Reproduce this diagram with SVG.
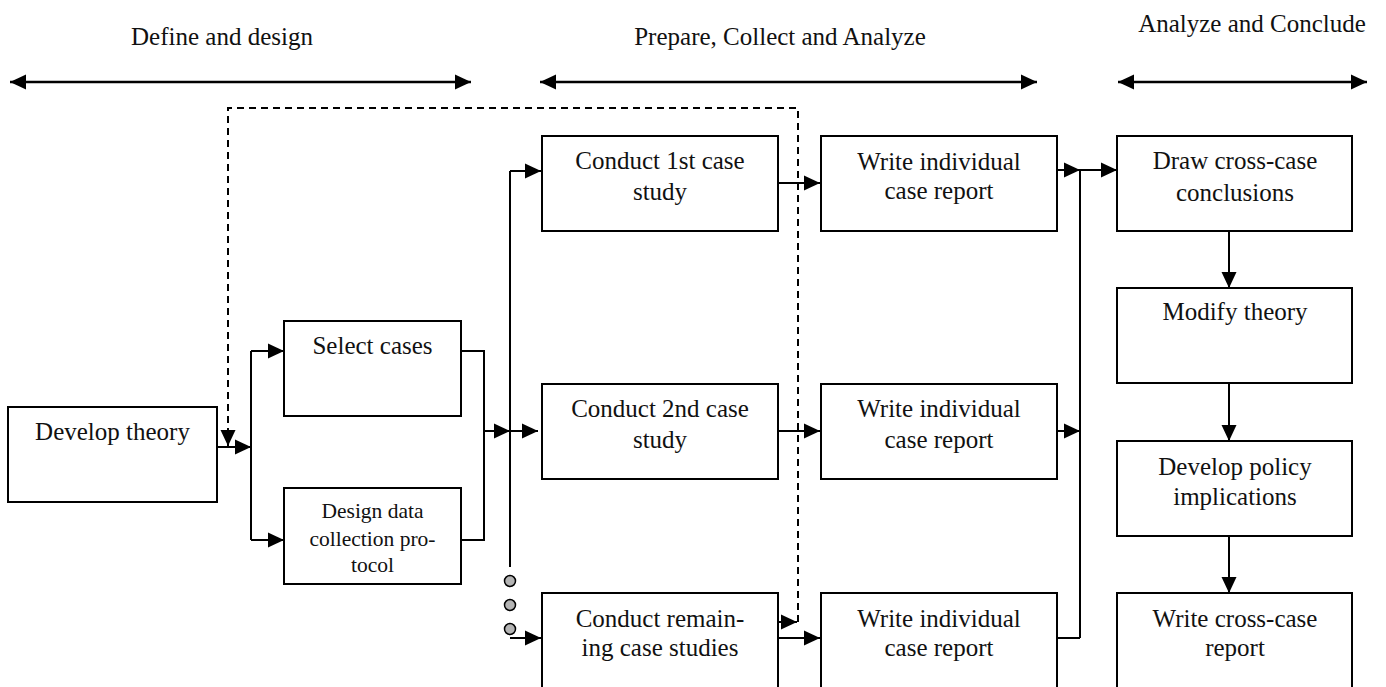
<svg xmlns="http://www.w3.org/2000/svg" width="1386" height="687" viewBox="0 0 1386 687">
<style>
.box{fill:#fff;stroke:#000;stroke-width:2}
.t{font-family:"Liberation Serif","DejaVu Serif",serif;font-size:25px;fill:#111;text-anchor:middle}
.ts{font-family:"Liberation Serif","DejaVu Serif",serif;font-size:21.5px;fill:#111;text-anchor:middle}
.ln{fill:none;stroke:#000;stroke-width:2}
.ar{fill:none;stroke:#000;stroke-width:2;marker-end:url(#ah)}
.dash{fill:none;stroke:#000;stroke-width:2;stroke-dasharray:7,5;marker-end:url(#ah)}
.dbl{fill:none;stroke:#000;stroke-width:2.5;marker-end:url(#ah)}
.dot{fill:#b4b4b4;stroke:#000;stroke-width:1.5}
</style>
<defs>
<marker id="ah" markerUnits="userSpaceOnUse" viewBox="0 0 16 16" markerWidth="16" markerHeight="16" refX="16" refY="8" orient="auto-start-reverse">
<path d="M0,0.5 L16,8 L0,15.5 Z" fill="#000"/>
</marker>
</defs>
<g id="headers">
<text class="t" x="222" y="45">Define and design</text>
<text class="t" x="780" y="45">Prepare, Collect and Analyze</text>
<text class="t" x="1252" y="32">Analyze and Conclude</text>
<line class="dbl" x1="10" y1="82" x2="471" y2="82" marker-start="url(#ah)"/>
<line class="dbl" x1="540" y1="82" x2="1037" y2="82" marker-start="url(#ah)"/>
<line class="dbl" x1="1118" y1="82" x2="1367" y2="82" marker-start="url(#ah)"/>
</g>
<g id="connectors">
<line class="ar" x1="217" y1="447" x2="251" y2="447"/>
<line class="ln" x1="251" y1="351" x2="251" y2="540"/>
<line class="ar" x1="251" y1="351" x2="284" y2="351"/>
<line class="ar" x1="251" y1="540" x2="284" y2="540"/>
<polyline class="ln" points="461,351 484,351 484,540 461,540"/>
<line class="ar" x1="484" y1="431" x2="510" y2="431"/>
<line class="ln" x1="510" y1="171" x2="510" y2="567"/>
<line class="ar" x1="510" y1="171" x2="541" y2="171"/>
<line class="ar" x1="510" y1="431" x2="538" y2="431"/>
<line class="ar" x1="510" y1="638" x2="541" y2="638"/>
<circle class="dot" cx="510" cy="581" r="5.5"/>
<circle class="dot" cx="510" cy="605" r="5.5"/>
<circle class="dot" cx="510" cy="629" r="5.5"/>
<line class="ar" x1="778" y1="183" x2="820" y2="183"/>
<line class="ar" x1="778" y1="431" x2="820" y2="431"/>
<line class="ar" x1="778" y1="638" x2="820" y2="638"/>
<line class="ar" x1="778" y1="622" x2="797" y2="622"/>
<polyline class="dash" points="798,622 798,108 228,108 228,446"/>
<line class="ar" x1="1057" y1="170" x2="1080" y2="170"/>
<line class="ar" x1="1057" y1="431" x2="1080" y2="431"/>
<line class="ln" x1="1057" y1="638" x2="1080" y2="638"/>
<line class="ln" x1="1080" y1="170" x2="1080" y2="638"/>
<line class="ar" x1="1080" y1="170" x2="1117" y2="170"/>
<line class="ar" x1="1229" y1="231" x2="1229" y2="288"/>
<line class="ar" x1="1229" y1="383" x2="1229" y2="441"/>
<line class="ar" x1="1229" y1="536" x2="1229" y2="593"/>
</g>
<g id="develop-theory"><rect class="box" x="8" y="407" width="209" height="95"/><text class="t" x="112.5" y="440">Develop theory</text></g>
<g id="select-cases"><rect class="box" x="284" y="321" width="177" height="95"/><text class="t" x="372.5" y="354">Select cases</text></g>
<g id="design-protocol"><rect class="box" x="284" y="488" width="177" height="96"/><text class="ts" x="372.5" y="518">Design data</text><text class="ts" x="372.5" y="546">collection pro-</text><text class="ts" x="372.5" y="572">tocol</text></g>
<g id="conduct-1"><rect class="box" x="542" y="136" width="236" height="95"/><text class="t" x="660" y="169">Conduct 1st case</text><text class="t" x="660" y="200">study</text></g>
<g id="conduct-2"><rect class="box" x="542" y="384" width="236" height="95"/><text class="t" x="660" y="417">Conduct 2nd case</text><text class="t" x="660" y="448">study</text></g>
<g id="conduct-rest"><rect class="box" x="542" y="593" width="236" height="96"/><text class="t" x="660" y="627">Conduct remain-</text><text class="t" x="660" y="656">ing case studies</text></g>
<g id="write-1"><rect class="box" x="821" y="136" width="236" height="95"/><text class="t" x="939" y="170">Write individual</text><text class="t" x="939" y="199">case report</text></g>
<g id="write-2"><rect class="box" x="821" y="384" width="236" height="95"/><text class="t" x="939" y="417">Write individual</text><text class="t" x="939" y="448">case report</text></g>
<g id="write-3"><rect class="box" x="821" y="593" width="236" height="96"/><text class="t" x="939" y="627">Write individual</text><text class="t" x="939" y="656">case report</text></g>
<g id="cross-case"><rect class="box" x="1117" y="136" width="235" height="95"/><text class="t" x="1235" y="169">Draw cross-case</text><text class="t" x="1235" y="201">conclusions</text></g>
<g id="modify-theory"><rect class="box" x="1117" y="288" width="235" height="95"/><text class="t" x="1235" y="320">Modify theory</text></g>
<g id="policy"><rect class="box" x="1117" y="441" width="235" height="95"/><text class="t" x="1235" y="475">Develop policy</text><text class="t" x="1235" y="505">implications</text></g>
<g id="cross-report"><rect class="box" x="1117" y="593" width="235" height="96"/><text class="t" x="1235" y="627">Write cross-case</text><text class="t" x="1235" y="656">report</text></g>
</svg>
